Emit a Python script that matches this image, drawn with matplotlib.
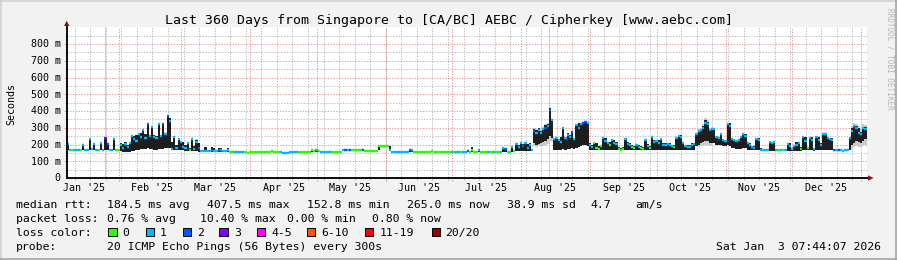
import datetime as dt
import matplotlib
matplotlib.use("Agg")
import matplotlib.pyplot as plt
import matplotlib.dates as mdates
import matplotlib.transforms as mtrans
from matplotlib.patches import Rectangle, Polygon
from matplotlib.lines import Line2D

W, H, DPI = 897, 260, 100
MONO = "DejaVu Sans Mono"

# ---------------- data ----------------
start = dt.datetime(2025, 1, 8, 7, 44, 7)
end = dt.datetime(2026, 1, 3, 7, 44, 7)

title = "Last 360 Days from Singapore to [CA/BC] AEBC / Cipherkey [www.aebc.com]"
month_labels = ["Jan '25", "Feb '25", "Mar '25", "Apr '25", "May '25", "Jun '25",
                "Jul '25", "Aug '25", "Sep '25", "Oct '25", "Nov '25", "Dec '25"]
y_ticks = [0, 100, 200, 300, 400, 500, 600, 700, 800]
y_labels = ["0", "100 m", "200 m", "300 m", "400 m", "500 m", "600 m", "700 m", "800 m"]

# daily median rtt (ms)
med = [
    205, 168, 168, 168, 167, 167, 168, 198, 168, 170,
    235, 175, 205, 168, 168, 210, 170, 240, 205, 168,
    168, 230, 168, 168, 200, 180, 205, 185, 210, 250,
    230, 220, 260, 245, 287, 240, 320, 250, 305, 245,
    240, 320, 250, 324, 260, 368, 340, 175, 245, 180,
    232, 215, 185, 180, 210, 170, 232, 175, 215, 180,
    160, 160, 162, 160, 160, 165, 162, 160, 170, 165,
    160, 160, 168, 158, 158, 157, 157, 157, 157, 157,
    155, 152, 155, 157, 157, 157, 157, 157, 157, 157,
    157, 157, 160, 157, 157, 157, 153, 152, 152, 152,
    153, 153, 153, 155, 157, 157, 156, 156, 157, 158,
    165, 160, 165, 160, 157, 157, 157, 157, 157, 157,
    157, 157, 157, 158, 165, 170, 165, 170, 167, 168,
    168, 168, 168, 170, 163, 163, 163, 163, 163, 163,
    191, 191, 191, 191, 191, 165, 158, 157, 157, 157,
    157, 157, 157, 157, 165, 165, 157, 157, 157, 157,
    157, 157, 157, 157, 160, 157, 157, 157, 157, 157,
    157, 155, 155, 157, 157, 157, 157, 157, 157, 157,
    163, 157, 170, 157, 157, 165, 157, 157, 157, 157,
    157, 157, 157, 157, 157, 157, 180, 175, 158, 158,
    185, 160, 205, 185, 208, 190, 210, 180, 200, 170,
    280, 270, 285, 270, 290, 300, 310, 406, 346, 230,
    240, 225, 217, 300, 240, 255, 247, 277, 235, 316,
    300, 320, 330, 336, 330, 200, 185, 207, 180, 175,
    190, 237, 220, 210, 200, 227, 210, 205, 175, 170,
    175, 230, 205, 200, 185, 180, 195, 185, 180, 175,
    225, 190, 180, 245, 215, 220, 210, 235, 200, 195,
    205, 200, 190, 185, 240, 250, 245, 210, 190, 185,
    185, 200, 205, 260, 280, 287, 300, 330, 320, 285,
    290, 290, 245, 240, 265, 225, 220, 320, 310, 235,
    225, 220, 227, 245, 265, 250, 210, 200, 185, 180,
    235, 225, 167, 167, 167, 167, 215, 210, 215, 167,
    167, 167, 165, 167, 205, 190, 175, 190, 200, 210,
    175, 245, 220, 180, 240, 225, 175, 245, 225, 200,
    265, 260, 240, 230, 225, 165, 165, 165, 165, 163,
    165, 167, 240, 280, 310, 300, 270, 260, 300, 290,
]
# dense smoke (black) top and bottom per day (0 = none)
smoke_top = [
    208, 0, 0, 0, 0, 0, 0, 200, 0, 174,
    240, 180, 208, 0, 0, 212, 0, 243, 207, 0,
    0, 233, 0, 0, 210, 205, 215, 200, 215, 252,
    248, 255, 262, 270, 290, 260, 324, 255, 308, 255,
    250, 324, 258, 327, 265, 375, 360, 215, 248, 197,
    235, 218, 217, 197, 212, 180, 235, 190, 227, 210,
    0, 0, 185, 0, 0, 185, 180, 0, 178, 178,
    0, 0, 178, 0, 0, 0, 0, 0, 0, 0,
    0, 0, 160, 0, 0, 0, 0, 0, 0, 0,
    0, 0, 165, 0, 0, 0, 0, 0, 0, 0,
    0, 0, 0, 0, 0, 0, 0, 0, 0, 0,
    170, 0, 170, 0, 0, 0, 0, 0, 0, 0,
    0, 0, 0, 0, 0, 175, 0, 175, 0, 0,
    0, 0, 0, 175, 0, 0, 0, 0, 0, 0,
    191, 0, 0, 0, 0, 191, 0, 0, 0, 0,
    0, 0, 0, 0, 172, 172, 0, 0, 0, 0,
    0, 0, 0, 0, 165, 0, 0, 0, 0, 0,
    0, 0, 0, 0, 0, 0, 0, 0, 0, 0,
    170, 0, 185, 0, 0, 173, 0, 0, 0, 0,
    0, 0, 0, 0, 0, 0, 185, 180, 0, 0,
    191, 0, 210, 200, 212, 205, 212, 205, 210, 175,
    290, 285, 296, 280, 296, 316, 320, 420, 350, 235,
    247, 235, 247, 306, 247, 267, 255, 280, 240, 320,
    326, 326, 336, 340, 336, 207, 197, 210, 207, 191,
    197, 240, 237, 217, 217, 230, 227, 217, 185, 179,
    185, 233, 217, 207, 197, 191, 197, 197, 191, 185,
    227, 203, 191, 247, 227, 227, 227, 237, 207, 207,
    210, 210, 197, 197, 247, 257, 257, 217, 197, 197,
    197, 207, 210, 267, 287, 290, 310, 346, 335, 290,
    296, 296, 247, 247, 267, 227, 227, 326, 326, 237,
    227, 227, 230, 247, 271, 265, 217, 210, 191, 191,
    237, 237, 179, 0, 175, 0, 217, 217, 217, 0,
    0, 0, 0, 0, 210, 210, 179, 197, 217, 217,
    185, 247, 247, 185, 247, 247, 179, 247, 247, 207,
    271, 271, 247, 237, 237, 0, 0, 0, 0, 0,
    0, 170, 247, 300, 316, 310, 296, 277, 306, 306,
]
smoke_bot = [
    165, 0, 0, 0, 0, 0, 0, 165, 0, 165,
    165, 165, 165, 0, 0, 165, 0, 165, 165, 0,
    0, 165, 0, 0, 160, 158, 158, 158, 158, 160,
    160, 165, 170, 175, 175, 175, 180, 175, 175, 170,
    170, 175, 175, 175, 180, 180, 180, 165, 165, 165,
    165, 165, 165, 162, 162, 162, 162, 160, 160, 158,
    0, 0, 158, 0, 0, 158, 158, 0, 158, 158,
    0, 0, 158, 0, 0, 0, 0, 0, 0, 0,
    0, 0, 150, 0, 0, 0, 0, 0, 0, 0,
    0, 0, 155, 0, 0, 0, 0, 0, 0, 0,
    0, 0, 0, 0, 0, 0, 0, 0, 0, 0,
    155, 0, 155, 0, 0, 0, 0, 0, 0, 0,
    0, 0, 0, 0, 0, 160, 0, 160, 0, 0,
    0, 0, 0, 162, 0, 0, 0, 0, 0, 0,
    165, 0, 0, 0, 0, 160, 0, 0, 0, 0,
    0, 0, 0, 0, 157, 157, 0, 0, 0, 0,
    0, 0, 0, 0, 155, 0, 0, 0, 0, 0,
    0, 0, 0, 0, 0, 0, 0, 0, 0, 0,
    157, 0, 157, 0, 0, 157, 0, 0, 0, 0,
    0, 0, 0, 0, 0, 0, 157, 157, 0, 0,
    157, 0, 160, 160, 160, 160, 160, 160, 160, 160,
    210, 200, 205, 210, 215, 220, 230, 250, 240, 165,
    170, 170, 170, 175, 170, 175, 175, 180, 175, 180,
    185, 190, 200, 200, 190, 165, 165, 165, 165, 165,
    165, 165, 165, 165, 165, 165, 165, 165, 165, 165,
    165, 165, 165, 165, 165, 165, 165, 165, 165, 165,
    165, 165, 165, 165, 165, 165, 165, 165, 165, 165,
    165, 165, 165, 165, 170, 170, 170, 165, 165, 165,
    165, 165, 170, 190, 200, 210, 215, 220, 220, 210,
    210, 210, 200, 195, 200, 190, 190, 195, 190, 180,
    180, 175, 175, 175, 180, 178, 170, 170, 165, 165,
    165, 165, 163, 0, 163, 0, 163, 163, 163, 0,
    0, 0, 0, 0, 163, 163, 163, 163, 163, 163,
    163, 165, 165, 165, 165, 165, 163, 165, 165, 165,
    170, 170, 170, 165, 165, 0, 0, 0, 0, 0,
    0, 163, 170, 200, 210, 220, 215, 210, 220, 230,
]
# loss class per day (index into loss_colors)
loss = [
    1, 1, 0, 1, 1, 1, 0, 1, 1, 1,
    1, 1, 1, 1, 0, 1, 1, 3, 2, 1,
    1, 1, 0, 0, 1, 1, 1, 1, 1, 1,
    1, 1, 1, 1, 1, 1, 2, 1, 1, 1,
    1, 1, 1, 2, 1, 2, 1, 1, 1, 1,
    1, 1, 1, 1, 1, 0, 1, 1, 1, 2,
    1, 1, 1, 1, 1, 2, 1, 1, 2, 1,
    1, 1, 1, 0, 0, 1, 1, 1, 1, 1,
    0, 0, 0, 0, 0, 0, 0, 0, 0, 0,
    0, 0, 0, 0, 0, 0, 1, 1, 1, 1,
    1, 1, 1, 1, 0, 0, 0, 0, 0, 0,
    0, 0, 1, 0, 1, 1, 1, 1, 1, 0,
    0, 0, 0, 0, 1, 2, 1, 2, 0, 0,
    0, 0, 0, 2, 0, 0, 0, 0, 0, 0,
    0, 0, 0, 0, 0, 1, 1, 1, 1, 1,
    1, 1, 1, 1, 2, 1, 0, 0, 0, 0,
    0, 0, 0, 0, 0, 0, 0, 0, 0, 0,
    0, 0, 0, 1, 0, 1, 1, 0, 1, 1,
    2, 0, 0, 0, 0, 1, 0, 0, 0, 1,
    0, 0, 1, 0, 0, 1, 1, 2, 0, 1,
    1, 0, 1, 1, 1, 2, 1, 1, 1, 1,
    2, 1, 1, 1, 1, 2, 1, 2, 1, 1,
    1, 1, 1, 1, 1, 1, 1, 2, 1, 1,
    1, 1, 2, 2, 1, 1, 1, 0, 0, 0,
    0, 1, 1, 1, 0, 1, 1, 1, 0, 0,
    0, 1, 1, 1, 0, 0, 1, 1, 0, 0,
    1, 1, 0, 1, 1, 1, 1, 1, 1, 1,
    1, 1, 1, 0, 1, 1, 1, 1, 1, 1,
    1, 1, 1, 1, 1, 1, 1, 1, 1, 1,
    1, 1, 1, 1, 1, 1, 1, 1, 1, 1,
    1, 1, 1, 1, 1, 1, 1, 1, 1, 1,
    1, 1, 1, 1, 1, 1, 1, 1, 1, 1,
    0, 1, 0, 1, 1, 1, 1, 1, 1, 1,
    0, 1, 1, 0, 1, 1, 1, 1, 1, 1,
    1, 1, 1, 1, 1, 2, 1, 2, 1, 1,
    1, 1, 1, 1, 1, 1, 1, 1, 1, 1,
]
# light outer smoke on selected days
light_day = [58, 210, 211, 212, 213, 214, 215, 216, 217, 218,
             284, 285, 286, 287, 288, 289, 290,
             353, 354, 355, 356, 357, 358, 359]
light_lo = [160, 190, 185, 190, 195, 190, 200, 205, 220, 215,
            185, 190, 190, 195, 195, 190, 190,
            175, 185, 190, 185, 185, 190, 195]
light_hi = [230, 300, 295, 300, 290, 305, 325, 330, 425, 355,
            295, 300, 320, 356, 345, 300, 305,
            310, 330, 320, 310, 300, 320, 315]
# days with smoke running off the top of the graph
offscale_day = [17.4, 217.3]

loss_labels = ["0", "1", "2", "3", "4-5", "6-10", "11-19", "20/20"]
loss_colors = ["#26ff00", "#00b8ff", "#0059ff", "#7e00ff",
               "#ff00ff", "#ff5500", "#ff0000", "#a10000"]

rtt_stats = ["184.5 ms avg", "407.5 ms max", "152.8 ms min", "265.0 ms now",
             "38.9 ms sd", "4.7", "am/s"]
loss_stats = ["0.76 % avg", "10.40 % max", "0.00 % min", "0.80 % now"]
probe_text = "20 ICMP Echo Pings (56 Bytes) every 300s"
stamp = "Sat Jan  3 07:44:07 2026"

# ---------------- layout (pixels) ----------------
rtt_x = [107.3, 207.3, 307.3, 407.3, 507.3, 590.7, 635.0]
loss_x = [107.3, 199.5, 286.7, 372.3]
box_x = [108.3, 145.7, 182.7, 219.3, 256.7, 306.7, 365.0, 431.7]
lab_x = [122.7, 160.0, 197.3, 234.3, 271.0, 321.7, 380.0, 445.0]

PL, PR, PB, PT = 66.5, 866.5, 178.0, 27.25
PW, PH = PR - PL, PB - PT


def fx(x):
    return x / W


def fy(y):
    return 1 - y / H


fig = plt.figure(figsize=(W / DPI, H / DPI), dpi=DPI, facecolor="#f2f2f2")
ax = fig.add_axes([fx(PL), fy(PB), PW / W, PH / H])
ax.set_facecolor("white")
for s in ax.spines.values():
    s.set_visible(False)
ax.set_xticks([])
ax.set_yticks([])
x0 = mdates.date2num(start)
x1 = mdates.date2num(end)
ax.set_xlim(x0, x1)
ax.set_ylim(0, 900)

minor_c = (0.56, 0.56, 0.56, 0.55)
major_c = (0.90, 0.30, 0.30, 0.55)
DOT = (0, (1.4, 1.4))
bl_v = mtrans.blended_transform_factory(ax.transData, ax.transAxes)
bl_h = mtrans.blended_transform_factory(ax.transAxes, ax.transData)

# vertical grid: weekly (Sundays) and months
wk = dt.datetime(2025, 1, 12)
while wk < end:
    xv = mdates.date2num(wk)
    ax.add_line(Line2D([xv, xv], [-2 / PH, 1], transform=bl_v, color=minor_c, lw=0.72,
                       ls=DOT, clip_on=False, zorder=1))
    wk += dt.timedelta(days=7)
month_starts = [dt.datetime(2025, m, 1) for m in range(2, 13)] + [dt.datetime(2026, 1, 1)]
for m in month_starts:
    xv = mdates.date2num(m)
    ax.add_line(Line2D([xv, xv], [-3 / PH, 1], transform=bl_v, color=major_c, lw=0.72,
                       ls=DOT, clip_on=False, zorder=1.1))
# horizontal grid
for v in range(50, 900, 50):
    major = v % 100 == 0
    ax.add_line(Line2D([(-3 if major else -2) / PW, 1], [v, v], transform=bl_h,
                       color=major_c if major else minor_c, lw=0.72, ls=DOT,
                       clip_on=False, zorder=1.1 if major else 1))

# off-scale smoke lines
for d in offscale_day:
    ax.axvline(x0 + d, color="#cccccc", lw=0.7, zorder=1.5)

# light smoke
ax.bar([x0 + d for d in light_day], [h - l for h, l in zip(light_hi, light_lo)],
       bottom=light_lo, width=1.0, align="edge", color="#cbcbcb", linewidth=0, zorder=2)

# dense smoke
days = list(range(len(med)))
bx = [x0 + d for d in days if smoke_top[d] > smoke_bot[d]]
bh = [smoke_top[d] - smoke_bot[d] for d in days if smoke_top[d] > smoke_bot[d]]
bb = [smoke_bot[d] for d in days if smoke_top[d] > smoke_bot[d]]
ax.bar(bx, bh, bottom=bb, width=1.0, align="edge", color="#1e1e1e", linewidth=0, zorder=3)

# median coloured by loss
ax.hlines(med, [x0 + d for d in days], [x0 + d + 1 for d in days],
          colors=[loss_colors[c] for c in loss], linewidth=1.7, zorder=4,
          capstyle="butt")

# axes lines and arrows
ax.add_line(Line2D([0, (868.5 - PL) / PW], [0, 0], transform=ax.transAxes, color="#111111",
                   lw=1.1, clip_on=False, zorder=6, antialiased=False))
ax.add_line(Line2D([0, 0], [0, (PB - 25) / PH], transform=ax.transAxes, color="#111111",
                   lw=1.1, clip_on=False, zorder=6, antialiased=False))
fig.add_artist(Polygon([[fx(868), fy(175.3)], [fx(868), fy(180.7)], [fx(873.5), fy(178)]],
                       closed=True, transform=fig.transFigure, color="#8c1010", lw=0))
fig.add_artist(Polygon([[fx(64.0), fy(26)], [fx(69.4), fy(26)], [fx(66.7), fy(20.8)]],
                       closed=True, transform=fig.transFigure, color="#8c1010", lw=0))

# tick labels
for v, lab in zip(y_ticks, y_labels):
    tr = mtrans.offset_copy(bl_h, fig=fig, x=-6.0, y=-3.4, units="dots")
    ax.text(0, v, lab, transform=tr, ha="right", va="baseline", family=MONO,
            fontsize=7.2, color="black", clip_on=False)
label_dates = [dt.datetime(2025, m, 1) + dt.timedelta(days=15) for m in range(1, 13)]
for d, lab in zip(label_dates, month_labels):
    tr = mtrans.offset_copy(bl_v, fig=fig, x=0, y=-13.0, units="dots")
    ax.text(mdates.date2num(d), 0, lab, transform=tr, ha="center", va="baseline",
            family=MONO, fontsize=7.2, color="black", clip_on=False)

# title / axis label / watermark
fig.text(fx(448.5), fy(24), title, ha="center", va="baseline", family=MONO, fontsize=9.55)
fig.text(fx(11.5), fy(104), "Seconds", rotation=90, ha="center", va="center",
         family=MONO, fontsize=7.2)
fig.text(fx(889.5), fy(8), "RRDTOOL / TOBI OETIKER", rotation=270, ha="center", va="top",
         family=MONO, fontsize=5.5, color="#b4b4b4")

# legend
LF = 8.25
rows = [207.7, 221.7, 235.7, 249.5]
fig.text(fx(16), fy(rows[0]), "median rtt:", family=MONO, fontsize=LF, va="baseline")
for s, x in zip(rtt_stats, rtt_x):
    fig.text(fx(x), fy(rows[0]), s, family=MONO, fontsize=LF, va="baseline")
fig.text(fx(16), fy(rows[1]), "packet loss:", family=MONO, fontsize=LF, va="baseline")
for s, x in zip(loss_stats, loss_x):
    fig.text(fx(x), fy(rows[1]), s, family=MONO, fontsize=LF, va="baseline")
fig.text(fx(16), fy(rows[2]), "loss color:", family=MONO, fontsize=LF, va="baseline")
for c, lab, bxp, lxp in zip(loss_colors, loss_labels, box_x, lab_x):
    fig.add_artist(Rectangle((fx(bxp), fy(236.2)), 8.2 / W, 8.2 / H, transform=fig.transFigure,
                             facecolor=c, edgecolor="black", lw=0.7))
    fig.text(fx(lxp), fy(rows[2]), lab, family=MONO, fontsize=LF, va="baseline")
fig.text(fx(16), fy(rows[3]), "probe:", family=MONO, fontsize=LF, va="baseline")
fig.text(fx(107.3), fy(rows[3]), probe_text, family=MONO, fontsize=LF, va="baseline")
fig.text(fx(880.5), fy(rows[3]), stamp, family=MONO, fontsize=LF, va="baseline", ha="right")

# 3D border
fig.add_artist(Line2D([0, 1], [fy(0.75), fy(0.75)], transform=fig.transFigure, color="#cfcfcf", lw=1.1))
fig.add_artist(Line2D([fx(0.75), fx(0.75)], [0, 1], transform=fig.transFigure, color="#cfcfcf", lw=1.1))
fig.add_artist(Line2D([0, 1], [fy(259.25), fy(259.25)], transform=fig.transFigure, color="#9e9e9e", lw=1.1))
fig.add_artist(Line2D([fx(896.25), fx(896.25)], [0, 1], transform=fig.transFigure, color="#9e9e9e", lw=1.1))

fig.savefig("out.png", dpi=DPI, facecolor=fig.get_facecolor())
